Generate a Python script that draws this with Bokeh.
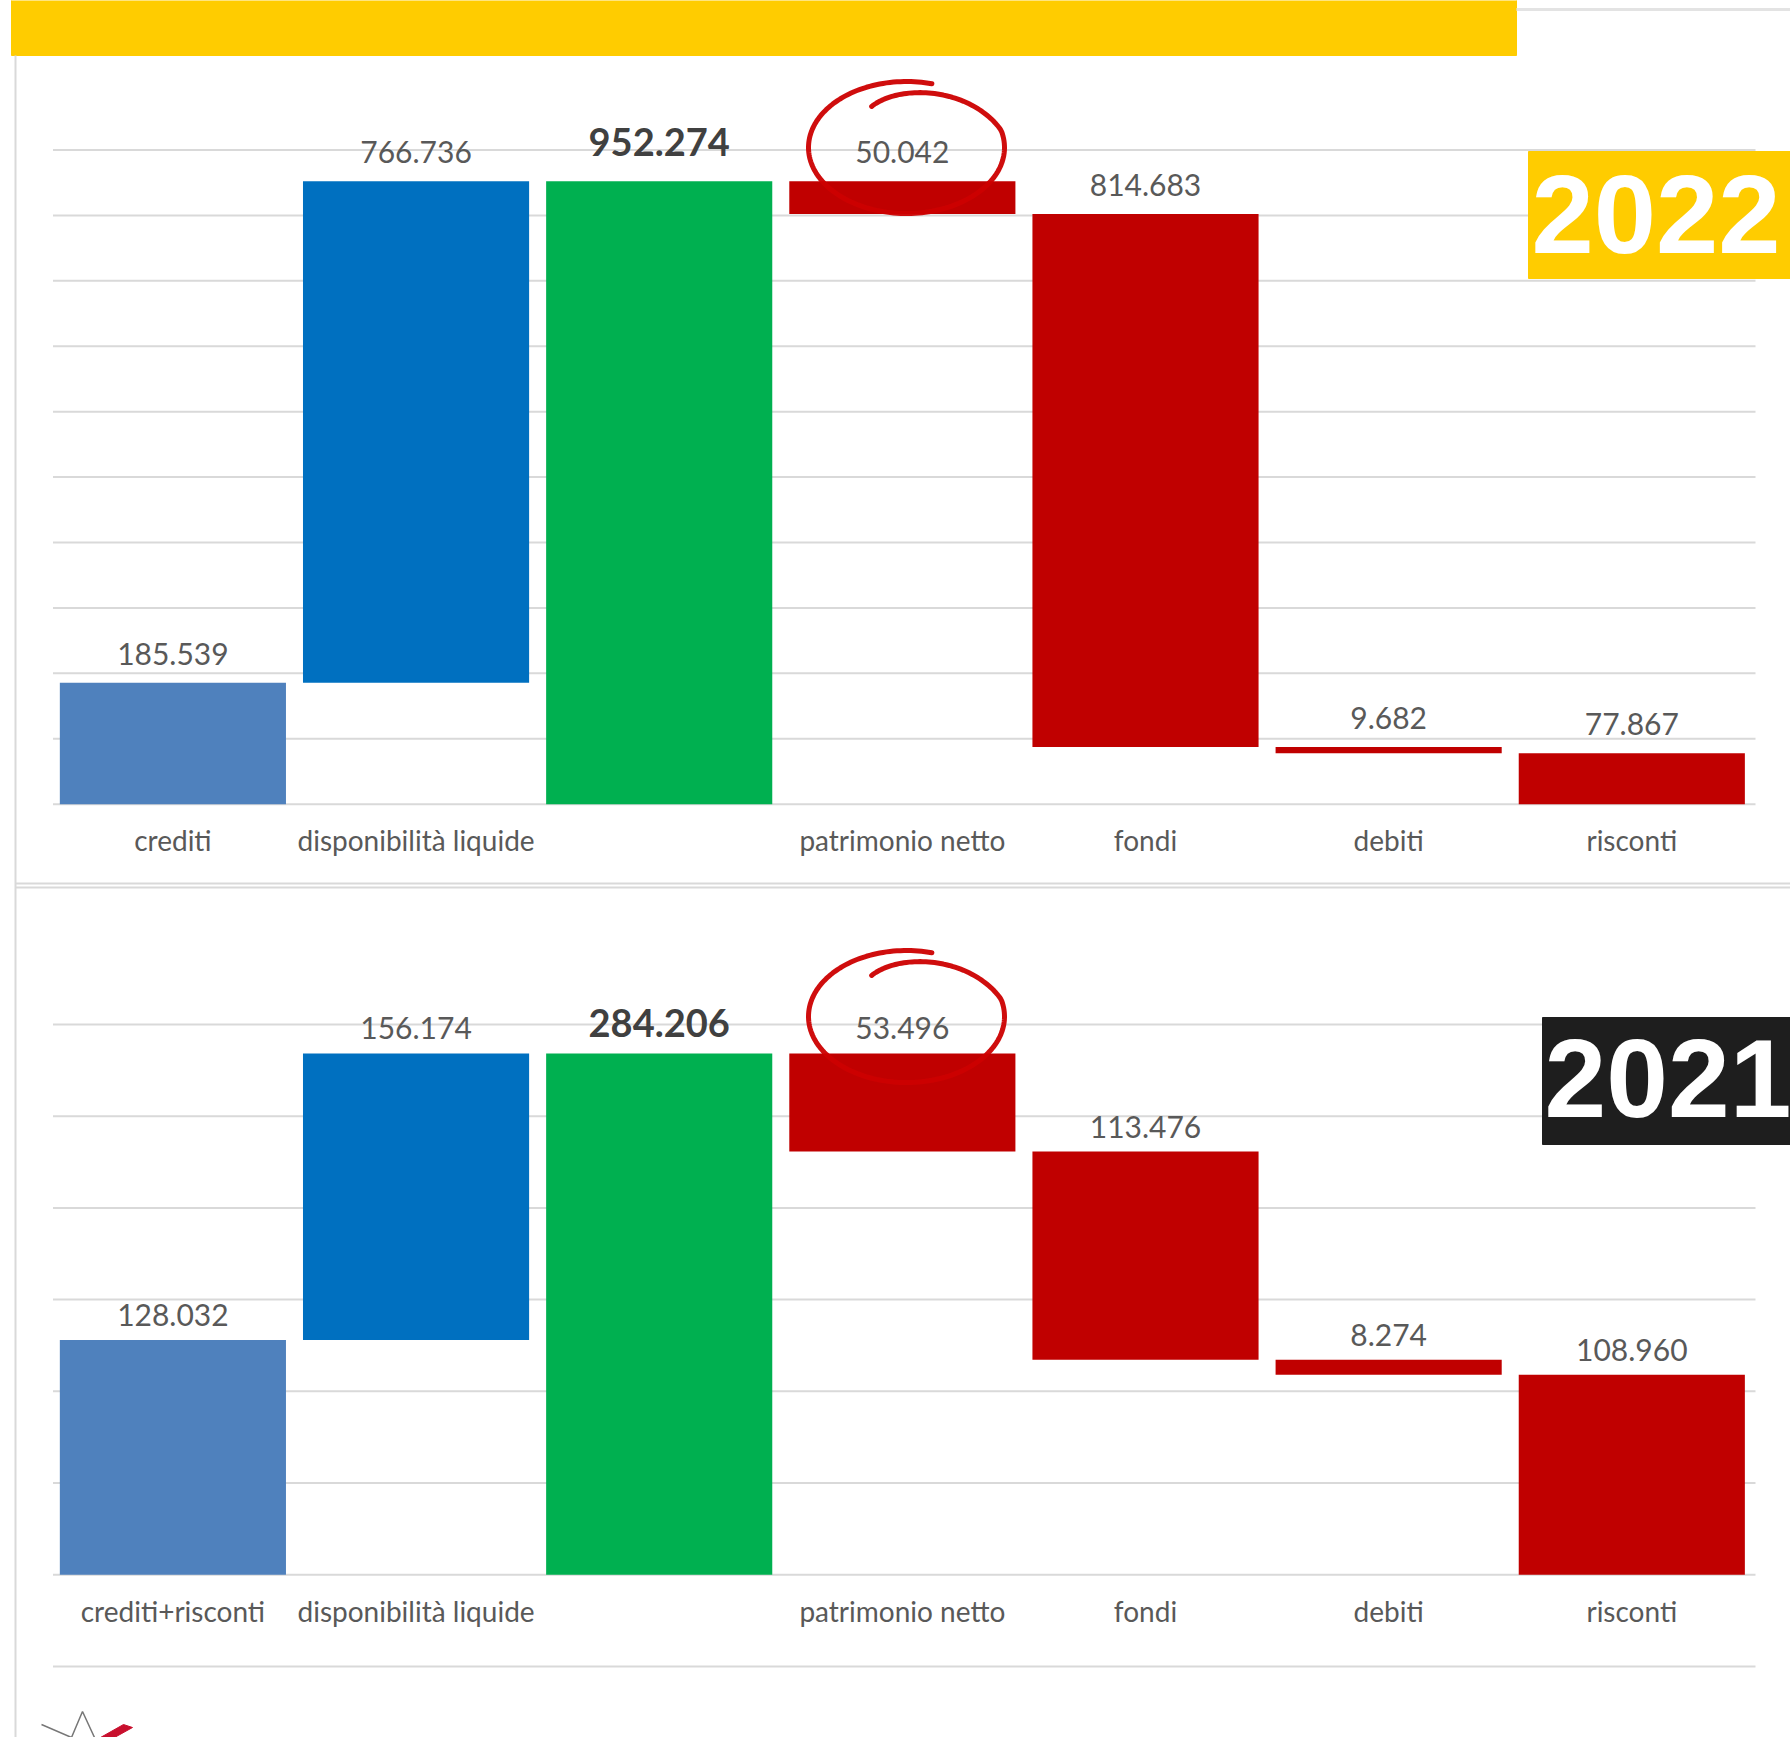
import numpy as np
from bokeh.plotting import figure
from bokeh.models import Range1d, ColumnDataSource
from bokeh.core.properties import value
from bokeh.embed import file_html
from bokeh.resources import INLINE

# ---------------- data ----------------
categories_2022 = ["crediti", "disponibilità liquide", "", "patrimonio netto", "fondi", "debiti", "risconti"]
values_2022 = [185539, 766736, 952274, 50042, 814683, 9682, 77867]
categories_2021 = ["crediti+risconti", "disponibilità liquide", "", "patrimonio netto", "fondi", "debiti", "risconti"]
values_2021 = [128032, 156174, 284206, 53496, 113476, 8274, 108960]
steps = ["up", "up", "total", "down", "down", "down", "down"]
bar_colors = ["#4F81BD", "#0070C0", "#00B050", "#C00000", "#C00000", "#C00000", "#C00000"]
grid_2022 = [0, 100000, 200000, 300000, 400000, 500000, 600000, 700000, 800000, 900000, 1000000]
grid_2021 = [-50000, 0, 50000, 100000, 150000, 200000, 250000, 300000]
year_labels = ["2022", "2021"]


def waterfall(vals, kinds):
    bottoms, tops = [], []
    run = 0
    for v, k in zip(vals, kinds):
        if k == "up":
            bottoms.append(run); run += v; tops.append(run)
        elif k == "total":
            run = v; bottoms.append(0); tops.append(v)
        else:
            tops.append(run); run -= v; bottoms.append(run)
    return bottoms, tops


def fmt(v):
    return f"{v:,}".replace(",", ".")


# ---------------- layout (canvas pixels) ----------------
W, H = 1790, 1737
CAT_W = 243.15
CAT0 = 172.4                        # px of the first category centre
X_LEFT, X_RIGHT = 52.5, 1755.0      # gridline extent
xs = -CAT0 / CAT_W
xe = xs + W / CAT_W

BASE1, TOP1 = 803.7, 149.5          # px of 0 and of 1.000.000
s1 = (BASE1 - TOP1) / 1e6
y1_end = BASE1 / s1
y1_start = y1_end - H / s1

BASE2, TOP2 = 1574.2, 1024.0        # px of 0 and of 300.000
s2 = (BASE2 - TOP2) / 3e5
y2_end = BASE2 / s2
y2_start = y2_end - H / s2


def X(px):
    return xs + px / CAT_W


def Y1(py):
    return (BASE1 - py) / s1


p = figure(width=W, height=H, x_range=Range1d(xs, xe), y_range=Range1d(y1_start, y1_end),
           output_backend="svg", toolbar_location=None, min_border=0,
           x_axis_location=None, y_axis_location=None)
p.extra_y_ranges = {"p2": Range1d(y2_start, y2_end)}
p.grid.visible = False
p.outline_line_color = None
p.background_fill_color = "white"
p.border_fill_color = "white"

GRID_C = "#D9D9D9"
VAL_C = "#595959"
FONT = value("Lato")

# frame decorations
p.quad(left=X(11), right=X(1516), top=Y1(-5), bottom=Y1(55), color="#FFCC00")
p.segment(x0=X(1516), x1=X(W + 5), y0=Y1(9), y1=Y1(9), line_color="#E3E3E3", line_width=3)
p.segment(x0=X(15), x1=X(15), y0=Y1(55), y1=Y1(H + 5), line_color=GRID_C, line_width=2)
for yy in (883, 887):
    p.segment(x0=X(15), x1=X(W + 5), y0=Y1(yy), y1=Y1(yy), line_color=GRID_C, line_width=2)

panels = [
    (categories_2022, values_2022, grid_2022, "default", -29, -39),
    (categories_2021, values_2021, grid_2021, "p2", -25, -30),
]

for cats, vals, grid, rname, off, off_tot in panels:
    idx = list(range(len(cats)))
    bottoms, tops = waterfall(vals, steps)
    p.segment(x0=[X(X_LEFT)] * len(grid), x1=[X(X_RIGHT)] * len(grid), y0=grid, y1=grid,
              line_color=GRID_C, line_width=2, y_range_name=rname)
    src = ColumnDataSource(dict(x=idx, bottom=bottoms, top=tops, color=bar_colors))
    p.vbar(x="x", width=0.93, bottom="bottom", top="top", fill_color="color",
           line_color=None, source=src, y_range_name=rname)
    norm = [i for i, k in enumerate(steps) if k != "total"]
    tot = [i for i, k in enumerate(steps) if k == "total"]
    p.text(x=norm, y=[tops[i] for i in norm], text=[fmt(vals[i]) for i in norm],
           y_offset=off, text_align="center", text_baseline="middle",
           text_font=FONT, text_font_size="30px", text_color=VAL_C, y_range_name=rname)
    p.text(x=tot, y=[tops[i] for i in tot], text=[fmt(vals[i]) for i in tot],
           y_offset=off_tot, text_align="center", text_baseline="middle",
           text_font=FONT, text_font_size="38px", text_font_style="bold",
           text_color="#404040", y_range_name=rname)
    p.text(x=idx, y=[0] * len(idx), text=cats, y_offset=36, text_align="center",
           text_baseline="middle", text_font=FONT, text_font_size="28px",
           text_color=VAL_C, y_range_name=rname)

# hand-drawn red circles around "patrimonio netto" labels
phi = np.radians(np.linspace(-75, -485, 200))
prog = np.abs(np.degrees(phi) + 75)
shrink = 1 - 0.38 * np.clip((prog - 300) / 110, 0, 1)
for cy in (147, 1016):
    cx, rx, ry = 906, 98, 66
    px = cx + rx * shrink * np.cos(phi)
    py = cy + ry * shrink * np.sin(phi) - (1 - shrink) * 20
    p.line(x=[X(v) for v in px], y=[Y1(v) for v in py], line_color="#CC0000",
           line_width=5, line_alpha=0.95, line_cap="round")

# year badges
p.quad(left=X(1528), right=X(W + 5), top=Y1(151), bottom=Y1(278), color="#FFCC00")
p.text(x=[X(1531)], y=[Y1(214)], text=[year_labels[0]], text_align="left",
       text_baseline="middle", text_font=value("Liberation Sans"), text_font_size="112px",
       text_font_style="bold", text_color="white")
p.quad(left=X(1542), right=X(W + 5), top=Y1(1017), bottom=Y1(1144), color="#1E1E1E")
p.text(x=[X(1544)], y=[Y1(1078)], text=[year_labels[1]], text_align="left",
       text_baseline="middle", text_font=value("Liberation Sans"), text_font_size="111px",
       text_font_style="bold", text_color="white")

# partial logo at the bottom
p.line(x=[X(41), X(71), X(82), X(94)], y=[Y1(1724), Y1(1737), Y1(1711), Y1(1737)],
       line_color="#777777", line_width=1.5)
p.patch(x=[X(100), X(123), X(132), X(114)], y=[Y1(1737), Y1(1724), Y1(1727), Y1(1737)],
        color="#C8102E")

open("out.html", "w").write(file_html(p, INLINE))
